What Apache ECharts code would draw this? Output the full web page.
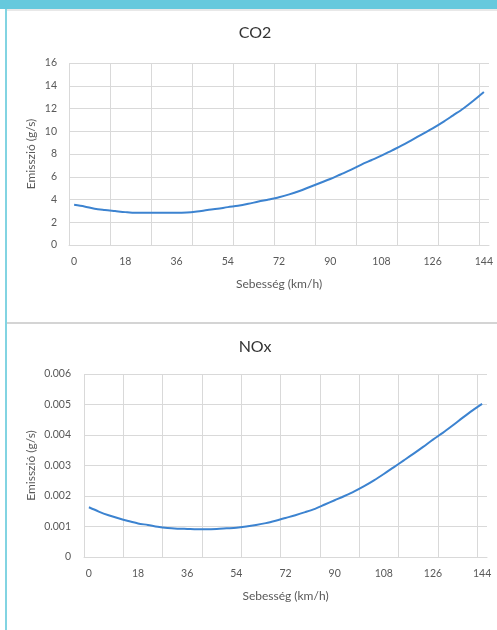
<!DOCTYPE html>
<html><head><meta charset="utf-8">
<script src="https://cdn.jsdelivr.net/npm/echarts@6/dist/echarts.min.js"></script>
<style>
html,body{margin:0;padding:0;background:#fff;width:497px;height:630px;overflow:hidden}
#topbar{position:absolute;left:0;top:0;width:497px;height:9px;background:#66C9DD}
#topshadow{position:absolute;left:7px;top:9px;width:490px;height:2px;background:#E8E8E8}
#leftbar{position:absolute;left:5px;top:9px;width:2px;height:621px;background:#82D4E2}
#divider{position:absolute;left:7px;top:322px;width:490px;height:2px;background:#D4D4D4}
#chart{position:absolute;left:0;top:0;width:497px;height:630px}
</style></head><body>
<div id="topbar"></div><div id="topshadow"></div><div id="leftbar"></div><div id="divider"></div>
<div id="chart"></div>
<script>
// Speed categories (km/h)
const speeds = ['0','3.6','7.2','10.8','14.4','18','21.6','25.2','28.8','32.4','36','39.6','43.2','46.8','50.4','54','57.6','61.2','64.8','68.4','72','75.6','79.2','82.8','86.4','90','93.6','97.2','100.8','104.4','108','111.6','115.2','118.8','122.4','126','129.6','133.2','136.8','140.4','144'];
// CO2 emission (g/s)
const co2 = [3.53,3.39,3.18,3.07,2.98,2.89,2.83,2.83,2.83,2.83,2.83,2.86,2.95,3.07,3.18,3.33,3.45,3.62,3.82,4.0,4.2,4.45,4.75,5.1,5.45,5.8,6.2,6.6,7.05,7.45,7.85,8.3,8.75,9.25,9.75,10.25,10.8,11.4,12.0,12.7,13.45];
// NOx emission (g/s)
const nox = [0.00163,0.00149,0.00137,0.00127,0.00118,0.00110,0.00105,0.00099,0.00095,0.00093,0.00092,0.00091,0.00091,0.00092,0.00094,0.00096,0.00100,0.00105,0.00111,0.00119,0.00128,0.00137,0.00147,0.00158,0.00172,0.00186,0.00200,0.00215,0.00232,0.00251,0.00272,0.00294,0.00316,0.00338,0.00361,0.00385,0.00407,0.00431,0.00456,0.00480,0.00502];
// Y tick values
const co2Ticks = [0,2,4,6,8,10,12,14,16];
const noxTicks = [0,0.001,0.002,0.003,0.004,0.005,0.006];
const titles = ['CO2','NOx'];
const xName = 'Sebesség (km/h)';
const yName = 'Emisszió (g/s)';

const FONT = 'Lato, "Open Sans", sans-serif';
const gridColor = '#D9D9D9';
const labelColor = '#595959';
const lineColor = '#3C83D0';

function xAxisFor(gridIndex){
  return {
    type:'category', gridIndex, data: speeds, boundaryGap:true,
    name: xName, nameLocation:'middle', nameGap:33, nameMoveOverlap:false,
    nameTextStyle:{color:labelColor, fontSize:12, fontFamily:FONT},
    axisLine:{show:true, lineStyle:{color:gridColor, width:1}},
    axisTick:{show:false},
    axisLabel:{interval:4, color:labelColor, fontSize:10.5, fontFamily:FONT, margin:11},
    splitLine:{show:true, interval:3, showMaxLine:false, lineStyle:{color:gridColor, width:1}}
  };
}
function yAxisFor(gridIndex, ticks, gap, margin){
  return {
    type:'value', gridIndex, min:ticks[0], max:ticks[ticks.length-1], interval:ticks[1]-ticks[0],
    name: yName, nameLocation:'middle', nameGap:gap, nameRotate:90, nameMoveOverlap:false,
    nameTextStyle:{color:labelColor, fontSize:12, fontFamily:FONT},
    axisLine:{show:false}, axisTick:{show:false},
    axisLabel:{color:labelColor, fontSize:10.5, fontFamily:FONT, margin:margin},
    splitLine:{show:true, lineStyle:{color:gridColor, width:1}}
  };
}

const chart = echarts.init(document.getElementById('chart'), null, {renderer:'canvas'});
chart.setOption({
  animation:false,
  title:[
    {text:titles[0], left:255, top:25, textAlign:'center', padding:0, textStyle:{fontSize:16, fontWeight:'normal', color:'#333', fontFamily:FONT}},
    {text:titles[1], left:255, top:339, textAlign:'center', padding:0, textStyle:{fontSize:16, fontWeight:'normal', color:'#333', fontFamily:FONT}}
  ],
  grid:[
    {left:69, top:63, width:420, height:182},
    {left:84, top:374, width:403, height:183}
  ],
  xAxis:[xAxisFor(0), xAxisFor(1)],
  yAxis:[yAxisFor(0, co2Ticks, 32, 12), yAxisFor(1, noxTicks, 47, 13)],
  series:[
    {type:'line', name:titles[0], xAxisIndex:0, yAxisIndex:0, data:co2, showSymbol:false, smooth:0.3, lineStyle:{color:lineColor, width:2}},
    {type:'line', name:titles[1], xAxisIndex:1, yAxisIndex:1, data:nox, showSymbol:false, smooth:0.3, lineStyle:{color:lineColor, width:2}}
  ]
});
</script>
</body></html>
